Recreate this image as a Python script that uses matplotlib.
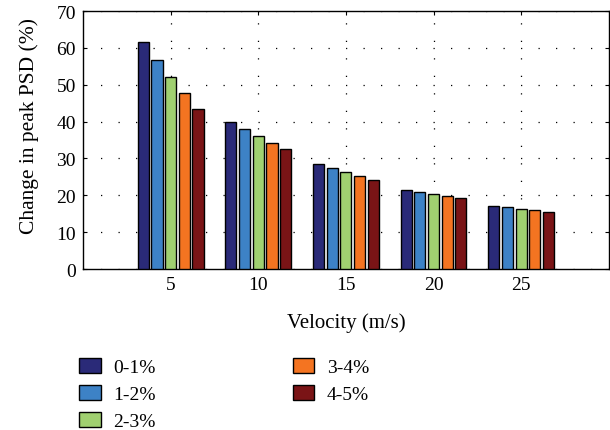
import matplotlib
matplotlib.use("Agg")
import matplotlib.pyplot as plt
import numpy as np

velocities = [5, 10, 15, 20, 25]
series_labels = ["0-1%", "1-2%", "2-3%", "3-4%", "4-5%"]
vals_0_1 = [61.6, 40.0, 28.6, 21.4, 17.0]
vals_1_2 = [56.8, 38.1, 27.5, 20.9, 16.7]
vals_2_3 = [52.0, 36.2, 26.4, 20.4, 16.3]
vals_3_4 = [47.7, 34.3, 25.3, 19.8, 15.9]
vals_4_5 = [43.5, 32.5, 24.2, 19.2, 15.5]
series = [vals_0_1, vals_1_2, vals_2_3, vals_3_4, vals_4_5]
colors = ["#2a2a78", "#3d82c6", "#a0d070", "#f47421", "#7a1416"]

plt.rcParams['font.family'] = ['Liberation Serif', 'DejaVu Serif']

fig = plt.figure(figsize=(6.10, 4.31), dpi=100)
ax = fig.add_axes([0.136, 0.3735, 0.862, 0.5985])

x = np.array(velocities, dtype=float)
pitch = 0.78
width = 0.64
for i, (vals, c, lab) in enumerate(zip(series, colors, series_labels)):
    off = (i - 2) * pitch
    ax.bar(x + off, vals, width=width, color=c, edgecolor='black',
           linewidth=1.0, label=lab, zorder=3)

ax.set_xlim(0, 30)
ax.set_ylim(0, 70)
ax.set_xticks(velocities)
ax.set_yticks(range(0, 71, 10))
ax.tick_params(direction='in', length=3, top=True, right=True,
               labelsize=14, pad=5)
ax.grid(True, linestyle=(0, (1, 13)), color='black', linewidth=0.9, zorder=0)
for s in ax.spines.values():
    s.set_linewidth(1.0)
ax.set_xlabel("Velocity (m/s)", fontsize=15, labelpad=14)
ax.set_ylabel("Change in peak PSD (%)", fontsize=15.5)
ax.yaxis.set_label_coords(-0.083, 0.56)

fig.legend(loc='upper left', bbox_to_anchor=(0.117, 0.185), ncol=2,
           frameon=False, fontsize=14, handlelength=1.1, handleheight=0.8,
           columnspacing=7.05, labelspacing=0.45, handletextpad=0.65,
           borderaxespad=0)

fig.savefig("out.png", dpi=100)
